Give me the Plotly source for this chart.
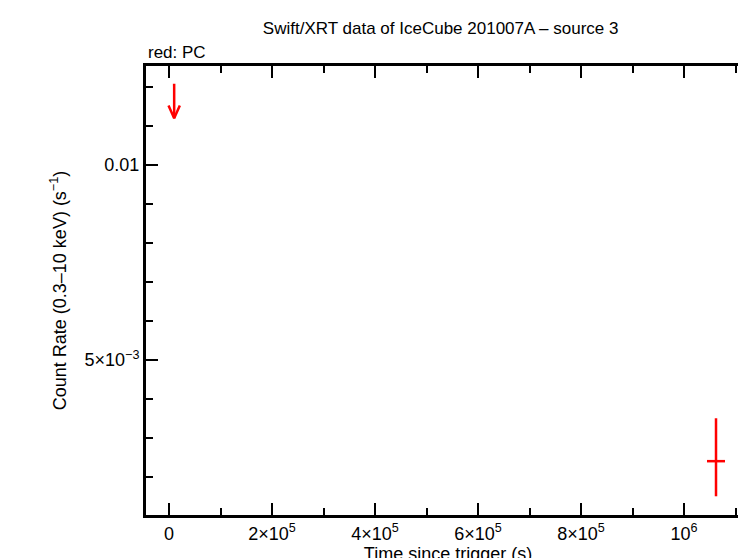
import plotly.graph_objects as go

# PC detection
det_t = [1.062e6]
det_terr = [17500]
det_rate = [0.00241]
det_err_up = [0.0011]
det_err_dn = [0.0009]

# PC upper limit
ul_t = [1.0e4]
ul_rate = [0.01205]
ul_tip = [0.0112]

xticks = [0, 2e5, 4e5, 6e5, 8e5, 1e6]
xlabels = ["0", "2×10<sup>5</sup>", "4×10<sup>5</sup>", "6×10<sup>5</sup>", "8×10<sup>5</sup>", "10<sup>6</sup>"]
yticks = [0.005, 0.01]
ylabels = ["5×10<sup>−3</sup>", "0.01"]

red = "#ff0000"
fig = go.Figure()
fig.add_trace(go.Scatter(
    x=det_t, y=det_rate, mode="markers", marker=dict(size=1, color=red),
    error_x=dict(type="data", array=det_terr, color=red, thickness=2.5, width=0),
    error_y=dict(type="data", array=det_err_up, arrayminus=det_err_dn, color=red, thickness=2.5, width=0),
))
# upper limit: small bar at top, shaft, open V head
for t, top, tip in zip(ul_t, ul_rate, ul_tip):
    wx, wy = 11000, 0.00033
    fig.add_trace(go.Scatter(
        x=[t - 2500, t, t, None, t - wx, t, t + wx],
        y=[top, top, tip, None, tip + wy, tip, tip + wy],
        mode="lines", line=dict(color=red, width=2.5),
    ))

axis_common = dict(showline=True, linewidth=3, linecolor="black", mirror="ticks", ticks="inside",
                   tickwidth=2, tickcolor="black", showgrid=False, zeroline=False, automargin=False,
                   tickfont=dict(size=18, color="black"))
fig.update_layout(
    width=746, height=558, plot_bgcolor="white", paper_bgcolor="white", showlegend=False,
    margin=dict(l=138, r=4, t=58, b=51),
    font=dict(family="Liberation Sans, Arial", color="black"),
    title=dict(text="Swift/XRT data of IceCube 201007A – source 3", x=0.58, y=0.975, xanchor="center",
               font=dict(size=17)),
    xaxis=dict(range=[-44700, 1.128e6], tickvals=xticks, ticktext=xlabels, ticklen=12,
               minor=dict(dtick=1e5, tick0=0, ticks="inside", ticklen=7, tickwidth=2, tickcolor="black"),
               title=dict(text="Time since trigger (s)", font=dict(size=18), standoff=0), **axis_common),
    yaxis=dict(range=[0.00103, 0.01254], tickvals=yticks, ticktext=ylabels, ticklen=12,
               minor=dict(dtick=0.001, tick0=0, ticks="inside", ticklen=7, tickwidth=2, tickcolor="black"),
               title=dict(text="Count Rate (0.3–10 keV) (s<sup>−1</sup>)", font=dict(size=18), standoff=14),
               **axis_common),
)
fig.add_annotation(text="red: PC", xref="paper", yref="paper", x=0, y=1.005, xanchor="left", yanchor="bottom",
                   showarrow=False, font=dict(size=17))
fig.write_html("out.html")
